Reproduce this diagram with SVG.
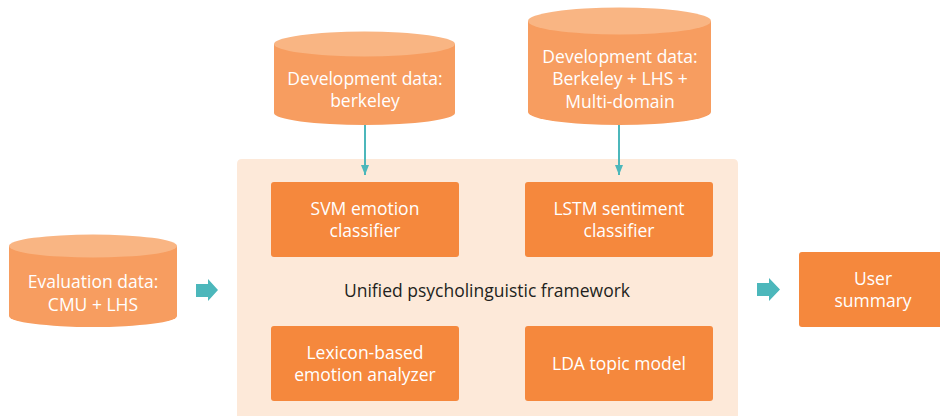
<svg xmlns="http://www.w3.org/2000/svg" width="940" height="416" viewBox="0 0 940 416">
  <defs>
    <style>
      .panel { fill: #fde9d9; }
      .box { fill: #f5883d; }
      .cyl-body { fill: #f79d60; }
      .cyl-top { fill: #f9b583; }
      .lbl { font-family: "Open Sans", "Noto Sans", sans-serif; font-size: 17.5px; fill: #ffffff; text-anchor: middle; }
      .title { font-family: "Open Sans", "Noto Sans", sans-serif; font-size: 17.5px; fill: #231f20; text-anchor: middle; }
      .wire { stroke: #4cb7bb; stroke-width: 2; fill: none; }
      .fat { fill: #4cb7bb; }
    </style>
    <marker id="head" viewBox="0 0 10 8" refX="10" refY="4" markerWidth="10" markerHeight="8" markerUnits="userSpaceOnUse" orient="auto">
      <path d="M0,0 L10,4 L0,8 Z" fill="#4cb7bb"/>
    </marker>
  </defs>

  <!-- framework panel -->
  <g id="framework">
    <path class="panel" d="M237,164 Q237,159 242,159 L733,159 Q738,159 738,164 L738,416 L237,416 Z"/>
    <text class="title" x="487" y="297">Unified psycholinguistic framework</text>
  </g>

  <!-- data stores -->
  <g id="dev-berkeley">
    <path class="cyl-body" d="M274,44 L274,113 A90.5,12 0 0 0 455,113 L455,44 Z"/>
    <ellipse class="cyl-top" cx="364.5" cy="44" rx="90.5" ry="12.5"/>
    <text class="lbl" x="365" y="85">Development data:</text>
    <text class="lbl" x="365" y="107">berkeley</text>
  </g>

  <g id="dev-multi">
    <path class="cyl-body" d="M528,21 L528,112 A91.5,13 0 0 0 711,112 L711,21 Z"/>
    <ellipse class="cyl-top" cx="619.5" cy="21" rx="91.5" ry="13.5"/>
    <text class="lbl" x="620" y="63">Development data:</text>
    <text class="lbl" x="620" y="85">Berkeley + LHS +</text>
    <text class="lbl" x="620" y="108">Multi-domain</text>
  </g>

  <g id="eval-data">
    <path class="cyl-body" d="M9,246 L9,316 A84,11 0 0 0 177,316 L177,246 Z"/>
    <ellipse class="cyl-top" cx="93" cy="246" rx="84" ry="11.5"/>
    <text class="lbl" x="93" y="288">Evaluation data:</text>
    <text class="lbl" x="93" y="311">CMU + LHS</text>
  </g>

  <!-- components -->
  <g id="svm">
    <rect class="box" x="271" y="182" width="188" height="75" rx="3"/>
    <text class="lbl" x="365" y="215">SVM emotion</text>
    <text class="lbl" x="365" y="237">classifier</text>
  </g>
  <g id="lstm">
    <rect class="box" x="525" y="182" width="188" height="75" rx="3"/>
    <text class="lbl" x="619" y="215">LSTM sentiment</text>
    <text class="lbl" x="619" y="237">classifier</text>
  </g>
  <g id="lexicon">
    <rect class="box" x="271" y="326" width="188" height="75" rx="3"/>
    <text class="lbl" x="365" y="359">Lexicon-based</text>
    <text class="lbl" x="365" y="381">emotion analyzer</text>
  </g>
  <g id="lda">
    <rect class="box" x="525" y="326" width="188" height="75" rx="3"/>
    <text class="lbl" x="619" y="370">LDA topic model</text>
  </g>

  <g id="user-summary">
    <rect class="box" x="799" y="252" width="150" height="75" rx="3"/>
    <text class="lbl" x="873" y="285">User</text>
    <text class="lbl" x="873" y="307">summary</text>
  </g>

  <!-- connectors -->
  <g id="connectors">
    <line class="wire" x1="365" y1="125" x2="365" y2="175" marker-end="url(#head)"/>
    <line class="wire" x1="619" y1="125" x2="619" y2="175" marker-end="url(#head)"/>
    <path class="fat" d="M196,284 L208,284 L208,279 L218,290 L208,301 L208,297 L196,297 Z"/>
    <path class="fat" d="M757,283 L769,283 L769,278 L780,289.5 L769,301 L769,296 L757,296 Z"/>
  </g>
</svg>
